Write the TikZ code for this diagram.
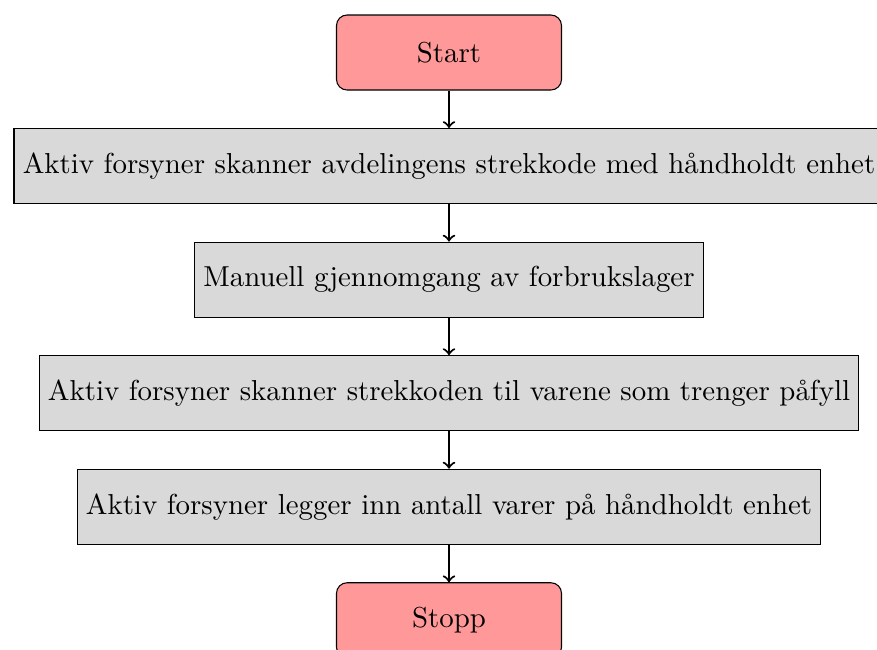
\documentclass[tikz,border=0pt]{standalone}
\usetikzlibrary{positioning}
\begin{document}
\begin{tikzpicture}[
  node distance=0.5cm,
  every node/.style={font=\fontsize{10.95pt}{13.6pt}\selectfont},
  startstop/.style={rectangle, rounded corners, minimum width=3cm, minimum height=1cm, text centered, draw=black, fill=red!40},
  process/.style={rectangle, minimum width=3cm, minimum height=1cm, text centered, draw=black, fill=gray!30},
  arrow/.style={thick,->}
]
\useasboundingbox (-5.987,0.7) rectangle (5.707,-7.967);
\node (start) [startstop] {Start};
\node (p1) [process, below=of start] {Aktiv forsyner skanner avdelingens strekkode med håndholdt enhet};
\node (p2) [process, below=of p1] {Manuell gjennomgang av forbrukslager};
\node (p3) [process, below=of p2] {Aktiv forsyner skanner strekkoden til varene som trenger påfyll};
\node (p4) [process, below=of p3] {Aktiv forsyner legger inn antall varer på håndholdt enhet};
\node (stop) [startstop, below=of p4] {Stopp};
\draw [arrow] (start) -- (p1);
\draw [arrow] (p1) -- (p2);
\draw [arrow] (p2) -- (p3);
\draw [arrow] (p3) -- (p4);
\draw [arrow] (p4) -- (stop);
\end{tikzpicture}
\end{document}
